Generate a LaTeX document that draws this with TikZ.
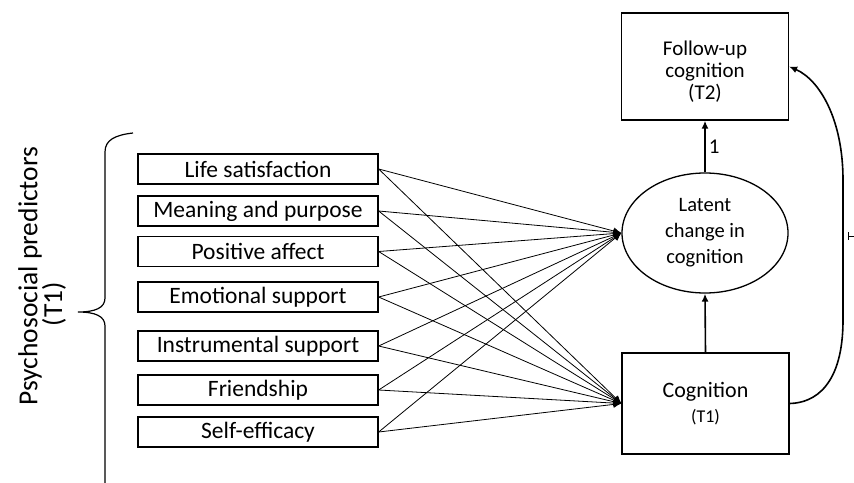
\documentclass[tikz,border=0pt]{standalone}
\usepackage{fontspec}
\setmainfont{Carlito}
\usetikzlibrary{positioning,arrows.meta,shapes.geometric}

\tikzset{
  predictor/.style={draw, line width=1.3pt, minimum width=240pt, minimum height=30pt,
    inner sep=0pt, font=\fontsize{23.5}{25}\selectfont},
  outcome/.style={draw, line width=1.3pt, minimum width=167pt, align=center, inner sep=0pt},
  pathline/.style={line width=0.8pt, -{Latex[length=8pt,width=7pt]}},
  mainline/.style={line width=1.6pt, -{Latex[length=8pt,width=7pt]}},
}

\begin{document}
\begin{tikzpicture}[x=1pt, y=-1pt]
      \useasboundingbox (0,0) rectangle (854,482);

      \node [outcome, minimum height=107pt] (follow) at (705,66.5) {};
      \node [align=center, inner sep=0pt, font=\fontsize{21}{22}\selectfont] (followtext) at (705,71.5)
        {Follow-up\\cognition\\(T2)};
      \node [draw, ellipse, line width=1.3pt, minimum width=166pt, minimum height=120pt, inner sep=0pt,
        align=center, font=\fontsize{20.5}{26}\selectfont] (latent) at (705,233)
        {Latent\\change in\\cognition};
      \node [outcome, minimum height=101pt, font=\fontsize{22}{25}\selectfont] (cog) at (705.5,403.5)
        {Cognition\\{\fontsize{18}{20}\selectfont (T1)}};

      \node [predictor] (p1) at (258,169) {Life satisfaction};
      \node [predictor] (p2) at (258,211) {Meaning and purpose};
      \node [predictor] (p3) at (258,251.5) {Positive affect};
      \node [predictor] (p4) at (258,297) {Emotional support};
      \node [predictor] (p5) at (258,346) {Instrumental support};
      \node [predictor] (p6) at (258,390) {Friendship};
      \node [predictor] (p7) at (258,432) {Self-efficacy};

      \node [rotate=90, font=\fontsize{27.5}{29}\selectfont] (group) at (30,276) {Psychosocial predictors};
      \node [rotate=90, font=\fontsize{27.5}{29}\selectfont] (grouptime) at (54,304) {(T1)};

      % predictor paths
      \draw (p1.east) edge [pathline] (latent.west) edge [pathline] (cog.west);
      \draw (p2.east) edge [pathline] (latent.west) edge [pathline] (cog.west);
      \draw (p3.east) edge [pathline] (latent.west) edge [pathline] (cog.west);
      \draw (p4.east) edge [pathline] (latent.west) edge [pathline] (cog.west);
      \draw (p5.east) edge [pathline] (latent.west) edge [pathline] (cog.west);
      \draw (p6.east) edge [pathline] (latent.west) edge [pathline] (cog.west);
      \draw (p7.east) edge [pathline] (latent.west) edge [pathline] (cog.west);

      \draw [mainline] (cog.north) -- (latent.south);
      \draw [mainline] (latent.north) -- node [right, inner sep=3pt, font=\fontsize{21}{22}\selectfont] {1} (follow.south);
      \draw [mainline] (cog.east) .. controls (815,403) and (843,385) .. (843,320)
        -- (843,180) .. controls (843,120) and (820,80) .. (follow.east);

      % brace
      \draw [line width=1.2pt] (133,133) .. controls (115,135) and (105,140) .. (105,152)
        -- (105,298) .. controls (105,308) and (95,312) .. (78,312)
        (78,312) .. controls (95,312) and (105,316) .. (105,326) -- (105,486);

      % cut-off mark at the right edge
      \draw [line width=1pt] (848,232) -- (848,240) (848,236) -- (855,236);
\end{tikzpicture}
\end{document}
